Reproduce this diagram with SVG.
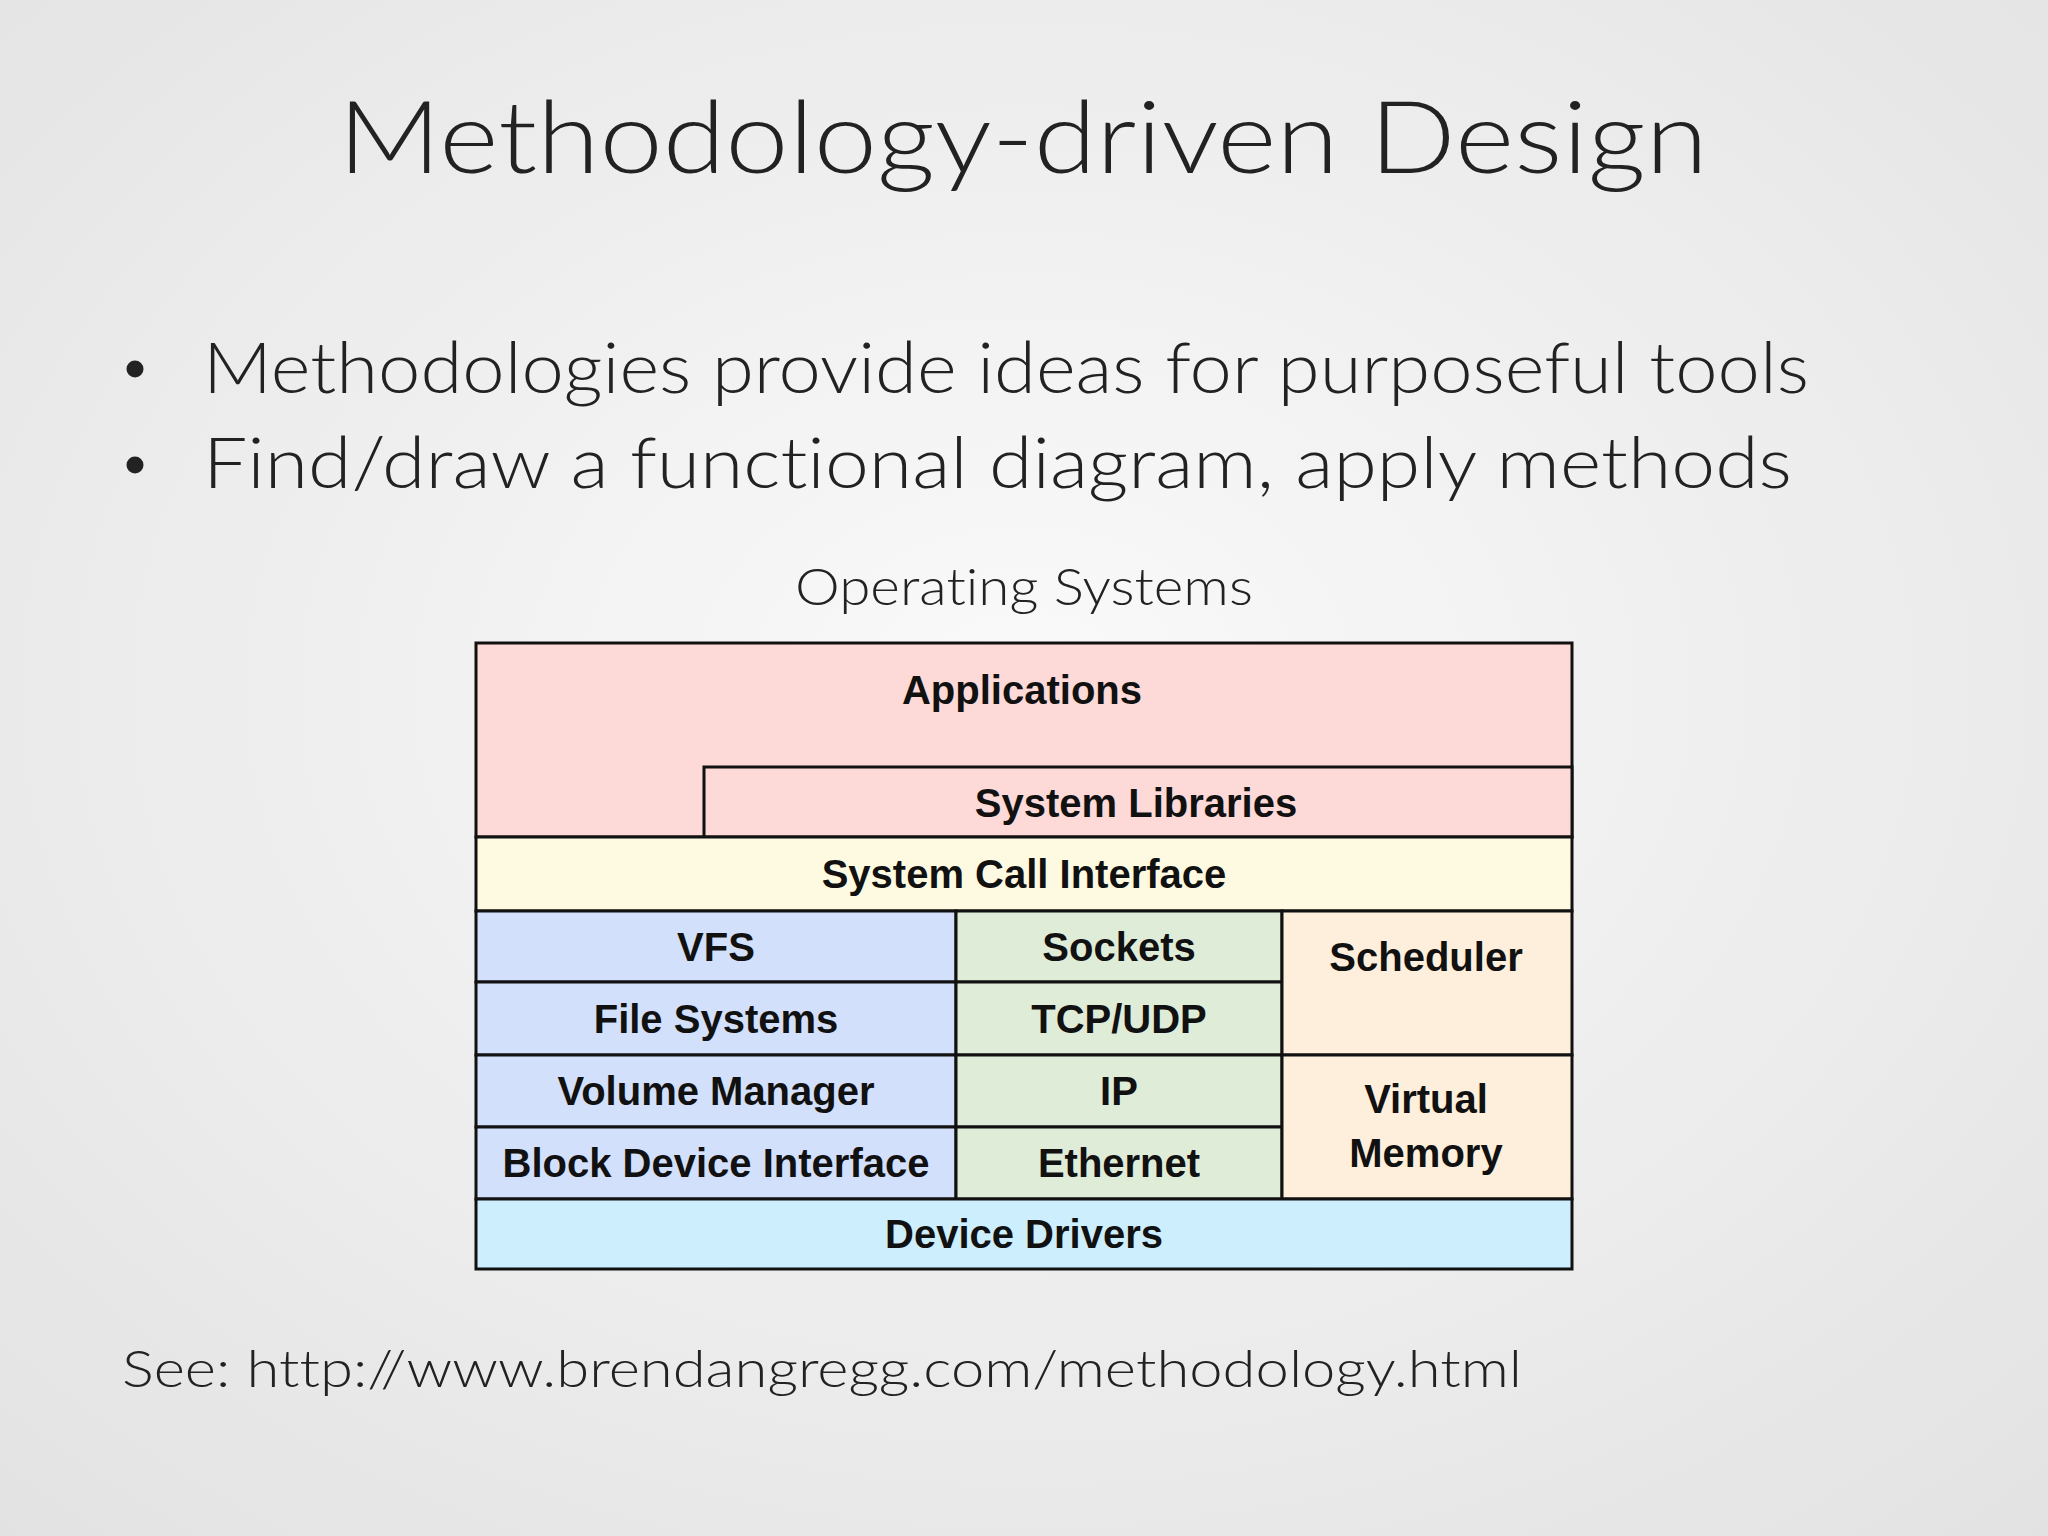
<svg xmlns="http://www.w3.org/2000/svg" width="2048" height="1536" viewBox="0 0 2048 1536">
<defs>
<radialGradient id="bg" cx="50%" cy="45%" r="75%">
<stop offset="0" stop-color="#fafafa"/>
<stop offset="1" stop-color="#e2e2e2"/>
</radialGradient>
<style>
.slide{font-family:Lato,"Open Sans","Liberation Sans",sans-serif;font-weight:300;fill:#222;font-variant-ligatures:none;font-feature-settings:"liga" 0,"dlig" 0,"clig" 0}
.box{stroke:#111;stroke-width:3}
.lbl{font-family:"Liberation Sans",Arial,sans-serif;font-weight:bold;font-size:40px;fill:#111;text-anchor:middle}
.app{fill:#fdd9d7}.sys{fill:#fefae2}.blue{fill:#d3e0fb}.green{fill:#dfecd8}.orange{fill:#fdefdb}.dd{fill:#cdeefd}
</style>
</defs>
<rect width="2048" height="1536" fill="url(#bg)"/>
<text class="slide" x="338" y="173" font-size="100" textLength="1370" lengthAdjust="spacingAndGlyphs">Methodology-driven Design</text>
<circle cx="135" cy="369" r="8.5" fill="#222"/>
<circle cx="135" cy="465" r="8.5" fill="#222"/>
<text class="slide" x="203" y="393" font-size="70" textLength="1606" lengthAdjust="spacingAndGlyphs">Methodologies provide ideas for purposeful tools</text>
<text class="slide" x="203" y="488" font-size="70" textLength="1589" lengthAdjust="spacingAndGlyphs">Find/draw a functional diagram, apply methods</text>
<text class="slide" x="795" y="605" font-size="51" textLength="458" lengthAdjust="spacingAndGlyphs">Operating Systems</text>
<g id="applications"><rect class="box app" x="476" y="643" width="1096" height="194"/><text class="lbl" x="1022" y="704">Applications</text></g>
<g id="system-libraries"><rect class="box app" x="704" y="767" width="868" height="70"/><text class="lbl" x="1136" y="817">System Libraries</text></g>
<g id="system-call-interface"><rect class="box sys" x="476" y="837" width="1096" height="74"/><text class="lbl" x="1024" y="888">System Call Interface</text></g>
<g id="vfs"><rect class="box blue" x="476" y="911" width="480" height="71"/><text class="lbl" x="716" y="961">VFS</text></g>
<g id="file-systems"><rect class="box blue" x="476" y="982" width="480" height="73"/><text class="lbl" x="716" y="1033">File Systems</text></g>
<g id="volume-manager"><rect class="box blue" x="476" y="1055" width="480" height="72"/><text class="lbl" x="716" y="1105">Volume Manager</text></g>
<g id="block-device-interface"><rect class="box blue" x="476" y="1127" width="480" height="72"/><text class="lbl" x="716" y="1177">Block Device Interface</text></g>
<g id="sockets"><rect class="box green" x="956" y="911" width="326" height="71"/><text class="lbl" x="1119" y="961">Sockets</text></g>
<g id="tcp-udp"><rect class="box green" x="956" y="982" width="326" height="73"/><text class="lbl" x="1119" y="1033">TCP/UDP</text></g>
<g id="ip"><rect class="box green" x="956" y="1055" width="326" height="72"/><text class="lbl" x="1119" y="1105">IP</text></g>
<g id="ethernet"><rect class="box green" x="956" y="1127" width="326" height="72"/><text class="lbl" x="1119" y="1177">Ethernet</text></g>
<g id="scheduler"><rect class="box orange" x="1282" y="911" width="290" height="144"/><text class="lbl" x="1426" y="971">Scheduler</text></g>
<g id="virtual-memory"><rect class="box orange" x="1282" y="1055" width="290" height="144"/><text class="lbl" x="1426" y="1113">Virtual</text><text class="lbl" x="1426" y="1167">Memory</text></g>
<g id="device-drivers"><rect class="box dd" x="476" y="1199" width="1096" height="70"/><text class="lbl" x="1024" y="1248">Device Drivers</text></g>
<g id="connectors"/>
<text class="slide" x="122" y="1387" font-size="52" textLength="1400" lengthAdjust="spacingAndGlyphs">See: http://www.brendangregg.com/methodology.html</text>
</svg>
